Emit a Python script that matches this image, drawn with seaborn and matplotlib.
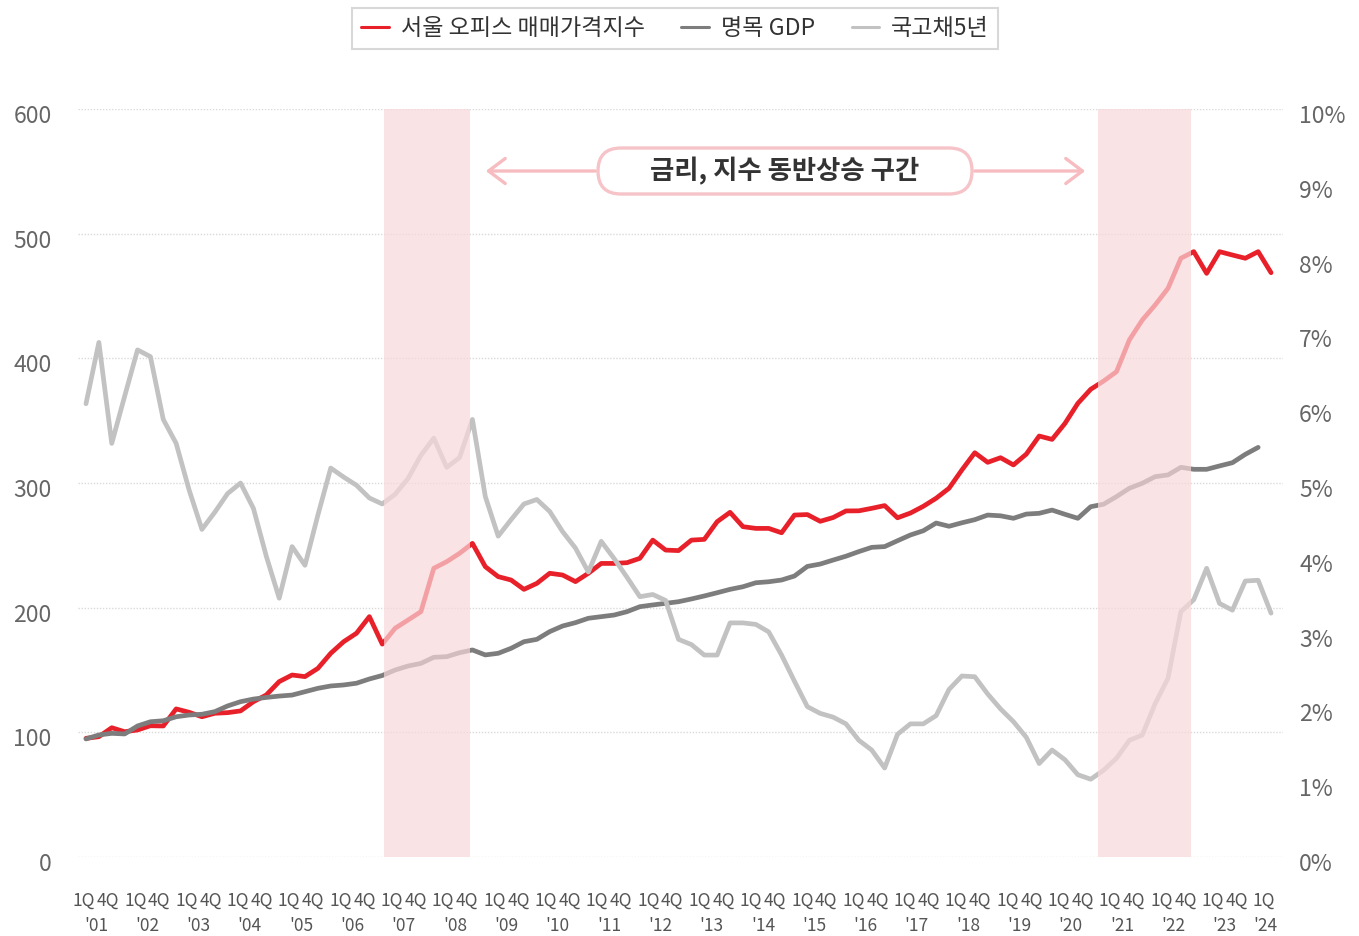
'''Seoul office price index vs nominal GDP vs 5y treasury'''

import matplotlib
matplotlib.use('Agg')
import matplotlib.pyplot as plt
from matplotlib import transforms
from matplotlib.lines import Line2D
from matplotlib.patches import FancyBboxPatch, FancyArrowPatch
import seaborn as sns
import pandas as pd
import numpy as np

# quarterly, 1Q'01 .. 1Q'24
years = ["'%02d" % y for y in range(1, 25)]

office = [95.2, 96.5, 103.7, 100.5, 101.9, 105.3, 105.1, 118.8, 116.1, 112.5,
          115.3, 115.8, 117.2, 124.6, 130.0, 140.7, 146.0, 144.7, 151.3, 163.4,
          172.7, 179.5, 192.8, 170.8, 183.5, 190.1, 196.8, 231.6, 236.9, 243.6,
          251.6, 232.9, 224.9, 222.2, 214.7, 219.5, 227.6, 226.2, 220.9, 227.6,
          235.5, 235.5, 236.1, 239.6, 254.2, 246.2, 245.8, 254.2, 254.8, 269.0,
          276.5, 265.0, 263.6, 263.6, 260.1, 274.3, 274.7, 269.3, 272.3, 277.6,
          277.7, 279.7, 281.9, 272.1, 275.9, 281.3, 287.8, 295.8, 310.5, 324.3,
          316.6, 320.3, 314.5, 323.2, 337.7, 335.0, 347.8, 363.9, 375.2, 381.8,
          389.3, 414.8, 430.7, 442.8, 456.2, 480.3, 485.6, 468.2, 485.6, 482.9,
          480.3, 485.6, 468.7]

# nominal GDP ends at 4Q'23
gdp = [94.7, 97.9, 99.2, 98.7, 105.1, 108.5, 109.3, 112.5, 113.9, 114.5,
       116.6, 121.2, 124.6, 126.7, 128.0, 129.1, 129.9, 132.6, 135.3, 137.2,
       138.0, 139.4, 142.8, 145.6, 150.0, 153.2, 155.3, 160.2, 160.7, 163.9,
       166.1, 162.1, 163.4, 167.4, 172.7, 174.6, 180.8, 185.3, 188.0, 191.5,
       192.8, 194.1, 196.8, 200.8, 202.2, 203.5, 204.8, 207.0, 209.4, 212.0,
       214.7, 216.8, 220.0, 220.8, 222.2, 225.4, 233.1, 235.0, 238.2, 241.3,
       245.0, 248.4, 249.0, 253.7, 258.3, 261.7, 267.9, 265.3, 268.1, 270.6,
       274.3, 273.7, 271.7, 275.1, 275.7, 278.3, 274.9, 271.7, 281.0, 283.0,
       289.1, 295.8, 299.8, 305.1, 306.5, 312.6, 311.0, 311.0, 313.7, 316.3,
       323.0, 328.6]

bond5y = [6.06, 6.88, 5.53, 6.16, 6.78, 6.69, 5.85, 5.53, 4.91, 4.38,
          4.61, 4.86, 5.00, 4.66, 4.02, 3.46, 4.15, 3.90, 4.57, 5.20,
          5.08, 4.97, 4.80, 4.72, 4.85, 5.06, 5.37, 5.60, 5.21, 5.34,
          5.85, 4.82, 4.29, 4.51, 4.72, 4.78, 4.62, 4.35, 4.13, 3.81,
          4.22, 3.99, 3.74, 3.48, 3.51, 3.43, 2.91, 2.84, 2.70, 2.70,
          3.13, 3.13, 3.11, 3.01, 2.70, 2.35, 2.01, 1.92, 1.87, 1.78,
          1.56, 1.43, 1.19, 1.64, 1.78, 1.78, 1.89, 2.24, 2.42, 2.41,
          2.18, 1.98, 1.81, 1.60, 1.25, 1.43, 1.30, 1.10, 1.04, 1.16,
          1.32, 1.56, 1.63, 2.05, 2.39, 3.28, 3.44, 3.86, 3.39, 3.30,
          3.69, 3.70, 3.26]

# periods where rates and index rose together (in quarter index units)
shade = [(23.1, 29.8), (78.6, 85.8)]

labels = ['서울 오피스 매매가격지수', '명목 GDP', '국고채5년']
RED, DARK, LIGHT = '#e8202a', '#7d7d7d', '#c2c2c2'

df = pd.DataFrame({'t': np.arange(len(office)), 'office': office,
                   'gdp': gdp + [np.nan], 'bond': bond5y})

sns.set_style('white')
plt.rcParams['font.family'] = ['Noto Sans CJK KR', 'DejaVu Sans']

fig = plt.figure(figsize=(13.59, 9.36), dpi=100)
ax = fig.add_axes([0.0574, 0.0844, 0.8867, 0.7991])
ax2 = ax.twinx()

sns.lineplot(data=df, x='t', y='office', ax=ax, color=RED, lw=3.4, zorder=2)
sns.lineplot(data=df, x='t', y='gdp', ax=ax, color=DARK, lw=3.4, zorder=3)
sns.lineplot(data=df, x='t', y='bond', ax=ax2, color=LIGHT, lw=3.4, zorder=2)

for a, b in shade:
    ax2.axvspan(a, b, color='#f9d8db', alpha=0.7, lw=0, zorder=5)

ax.set_xlim(-0.62, 92.93)
ax.set_ylim(0, 600)
ax2.set_ylim(0, 10)
ax.set_yticks(range(0, 601, 100))
ax2.set_yticks(range(0, 11))
ax2.set_yticklabels([f'{v}%' for v in range(0, 11)])
ax.set_xlabel('')
ax.set_ylabel('')
ax2.set_ylabel('')
ax.yaxis.grid(True, color='#dadada', lw=1, linestyle=(0, (1, 1.2)))
ax.xaxis.grid(False)
ax.set_axisbelow(True)
for a in (ax, ax2):
    for s in a.spines.values():
        s.set_visible(False)

# x labels: "1Q 4Q" under each year, year below
step = 3.983
qpos, qlab = [], []
for k in range(len(years)):
    qpos.append(k * step - 0.155)
    qlab.append('1Q')
    if k < len(years) - 1:
        qpos.append(k * step + 1.708)
        qlab.append('4Q')
ypos = [k * step + 0.776 for k in range(len(years) - 1)] + [91.6]
ax.set_xticks(qpos, qlab)
ax.set_xticks(ypos, years, minor=True)
ax.tick_params(axis='x', which='major', length=0, pad=25, labelsize=12.5,
               labelcolor='#555555')
ax.tick_params(axis='x', which='minor', length=0, pad=43, labelsize=12.5,
               labelcolor='#555555')
ax.tick_params(axis='y', length=0, pad=19, labelsize=16.5, labelcolor='#666666')
ax2.tick_params(axis='y', length=0, pad=11.5, labelsize=16.5, labelcolor='#666666')

shift = transforms.ScaledTranslation(0, -0.05, fig.dpi_scale_trans)
for lab in ax.get_yticklabels() + ax2.get_yticklabels():
    lab.set_transform(lab.get_transform() + shift)

# legend
handles = [Line2D([], [], color=c, lw=2.2) for c in (RED, DARK, LIGHT)]
leg = fig.legend(handles, labels, loc='center', bbox_to_anchor=(0.4967, 0.9696),
                 ncol=3, frameon=True, fancybox=False, edgecolor='#cfcfcf',
                 fontsize=16.6, handlelength=1.2, handletextpad=0.5,
                 columnspacing=1.6, borderpad=0.4, labelcolor='#333333')
leg.get_frame().set_linewidth(1.5)

# annotation: pill box + arrows
fig.add_artist(FancyBboxPatch((5.98, 7.42), 3.74, 0.46,
                              boxstyle='round,pad=0,rounding_size=0.23',
                              transform=fig.dpi_scale_trans, fc='white',
                              ec='#f6c4c8', lw=2.4, zorder=6))
for x0, x1 in ((5.98, 4.83), (9.72, 10.88)):
    fig.add_artist(FancyArrowPatch((x0, 7.65), (x1, 7.65),
                                   arrowstyle='->,head_length=0.6,head_width=0.45',
                                   mutation_scale=20, color='#f6bcc0', lw=2.4,
                                   transform=fig.dpi_scale_trans, zorder=6))
fig.text(785 / 1359, 765 / 936, '금리, 지수 동반상승 구간', ha='center',
         va='center', fontsize=19, fontweight='bold', color='#333333', zorder=7)

fig.savefig('out.png', dpi=100)
